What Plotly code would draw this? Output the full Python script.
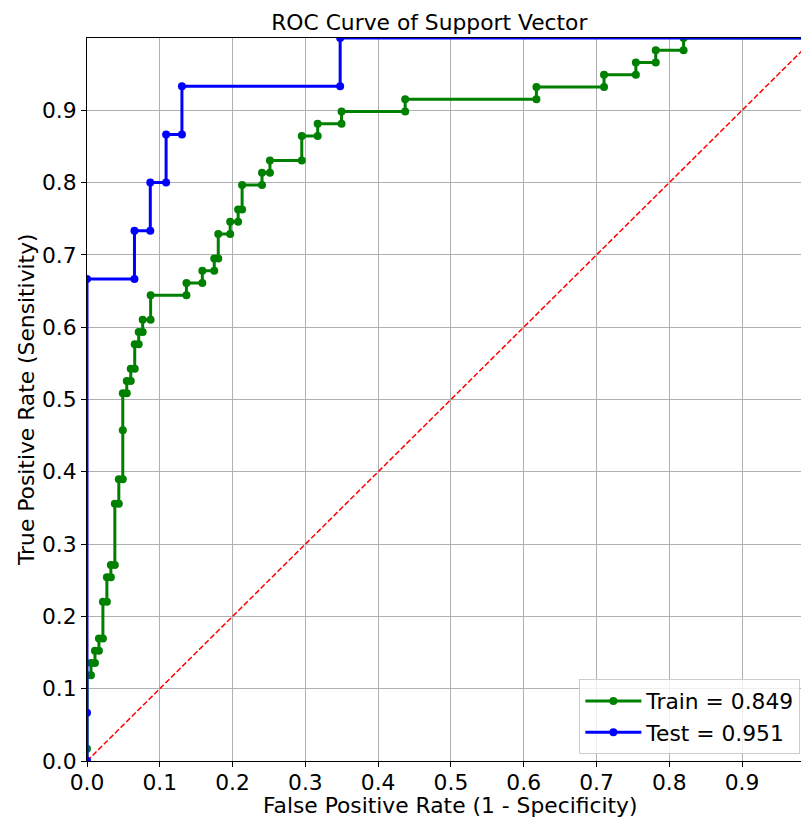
import plotly.graph_objects as go

# ROC operating points (false positive rate, true positive rate)
train_fpr = [0.0, 0.0, 0.0, 0.005464, 0.005464, 0.010929, 0.010929, 0.016393, 0.016393,
             0.021858, 0.021858, 0.027322, 0.027322, 0.032787, 0.032787, 0.038251, 0.038251,
             0.043716, 0.043716, 0.04918, 0.04918, 0.04918, 0.054645, 0.054645, 0.060109,
             0.060109, 0.065574, 0.065574, 0.071038, 0.071038, 0.076503, 0.076503, 0.087432,
             0.087432, 0.136612, 0.136612, 0.15847, 0.15847, 0.174863, 0.174863, 0.180328,
             0.180328, 0.196721, 0.196721, 0.20765, 0.20765, 0.213115, 0.213115, 0.240437,
             0.240437, 0.251366, 0.251366, 0.295082, 0.295082, 0.31694, 0.31694, 0.349727,
             0.349727, 0.437158, 0.437158, 0.617486, 0.617486, 0.710383, 0.710383, 0.754098,
             0.754098, 0.781421, 0.781421, 0.819672, 0.819672, 1.0]
train_tpr = [0.0, 0.016949, 0.118644, 0.118644, 0.135593, 0.135593, 0.152542, 0.152542, 0.169492,
             0.169492, 0.220339, 0.220339, 0.254237, 0.254237, 0.271186, 0.271186, 0.355932,
             0.355932, 0.389831, 0.389831, 0.457627, 0.508475, 0.508475, 0.525424, 0.525424,
             0.542373, 0.542373, 0.576271, 0.576271, 0.59322, 0.59322, 0.610169, 0.610169,
             0.644068, 0.644068, 0.661017, 0.661017, 0.677966, 0.677966, 0.694915, 0.694915,
             0.728814, 0.728814, 0.745763, 0.745763, 0.762712, 0.762712, 0.79661, 0.79661,
             0.813559, 0.813559, 0.830508, 0.830508, 0.864407, 0.864407, 0.881356, 0.881356,
             0.898305, 0.898305, 0.915254, 0.915254, 0.932203, 0.932203, 0.949153, 0.949153,
             0.966102, 0.966102, 0.983051, 0.983051, 1.0, 1.0]

test_fpr = [0.0, 0.0, 0.0, 0.065217, 0.065217, 0.086957, 0.086957, 0.108696, 0.108696,
            0.130435, 0.130435, 0.347826, 0.347826, 1.0]
test_tpr = [0.0, 0.066667, 0.666667, 0.666667, 0.733333, 0.733333, 0.8, 0.8, 0.866667,
            0.866667, 0.933333, 0.933333, 1.0, 1.0]

train_auc = 0.849
test_auc = 0.951

chance_x = [0.0, 1.0]
chance_y = [0.0, 1.0]

tick_vals = [0.0, 0.1, 0.2, 0.3, 0.4, 0.5, 0.6, 0.7, 0.8, 0.9]
tick_text = ["0.0", "0.1", "0.2", "0.3", "0.4", "0.5", "0.6", "0.7", "0.8", "0.9"]

FONT = "DejaVu Sans"
FS = 21.8

fig = go.Figure()

fig.add_trace(go.Scatter(
    x=chance_x, y=chance_y, mode="lines",
    line=dict(color="#ff0000", width=1.5, dash="5.5px,2.4px"),
    showlegend=False, hoverinfo="skip",
))
fig.add_trace(go.Scatter(
    x=train_fpr, y=train_tpr, mode="lines+markers",
    name=f"Train = {train_auc:.3f}",
    line=dict(color="#008000", width=3),
    marker=dict(color="#008000", size=8),
))
fig.add_trace(go.Scatter(
    x=test_fpr, y=test_tpr, mode="lines+markers",
    name=f"Test = {test_auc:.3f}",
    line=dict(color="#0000ff", width=3),
    marker=dict(color="#0000ff", size=8),
))

axis_common = dict(
    tickvals=tick_vals, ticktext=tick_text,
    ticks="outside", ticklen=5, tickwidth=1, tickcolor="black",
    showgrid=True, gridcolor="#b0b0b0", gridwidth=1,
    zeroline=False, showline=True, linecolor="black", linewidth=1,
    tickfont=dict(family=FONT, size=FS, color="black"),
)

fig.update_layout(
    width=801, height=818,
    margin=dict(l=87, r=0, t=38, b=57),
    paper_bgcolor="white", plot_bgcolor="white",
    font=dict(family=FONT, size=FS, color="black"),
    title=dict(
        text="ROC Curve of Support Vector",
        font=dict(family=FONT, size=FS, color="black"),
        x=429.3 / 801, xref="container", xanchor="center",
        y=1 - 22 / 818, yref="container", yanchor="middle",
    ),
    xaxis=dict(range=[0, 0.981], mirror=True, ticklabelstandoff=-3, **axis_common),
    yaxis=dict(range=[0, 1.0], **axis_common),
    legend=dict(
        x=0.6896, y=0.113, xanchor="left", yanchor="top",
        bgcolor="rgba(255,255,255,0.8)", bordercolor="#cccccc", borderwidth=1,
        font=dict(family=FONT, size=FS, color="black"),
        itemwidth=56,
    ),
    annotations=[
        dict(text="False Positive Rate (1 - Specificity)", xref="paper", yref="paper",
             x=(450.3 - 87) / 714, y=(761 - 805) / 723, xanchor="center", yanchor="middle",
             showarrow=False, font=dict(family=FONT, size=FS, color="black")),
        dict(text="True Positive Rate (Sensitivity)", xref="paper", yref="paper",
             x=(26.5 - 87) / 714, y=0.5, xanchor="center", yanchor="middle", textangle=-90,
             showarrow=False, font=dict(family=FONT, size=FS, color="black")),
    ],
)

fig.write_html("out.html")
